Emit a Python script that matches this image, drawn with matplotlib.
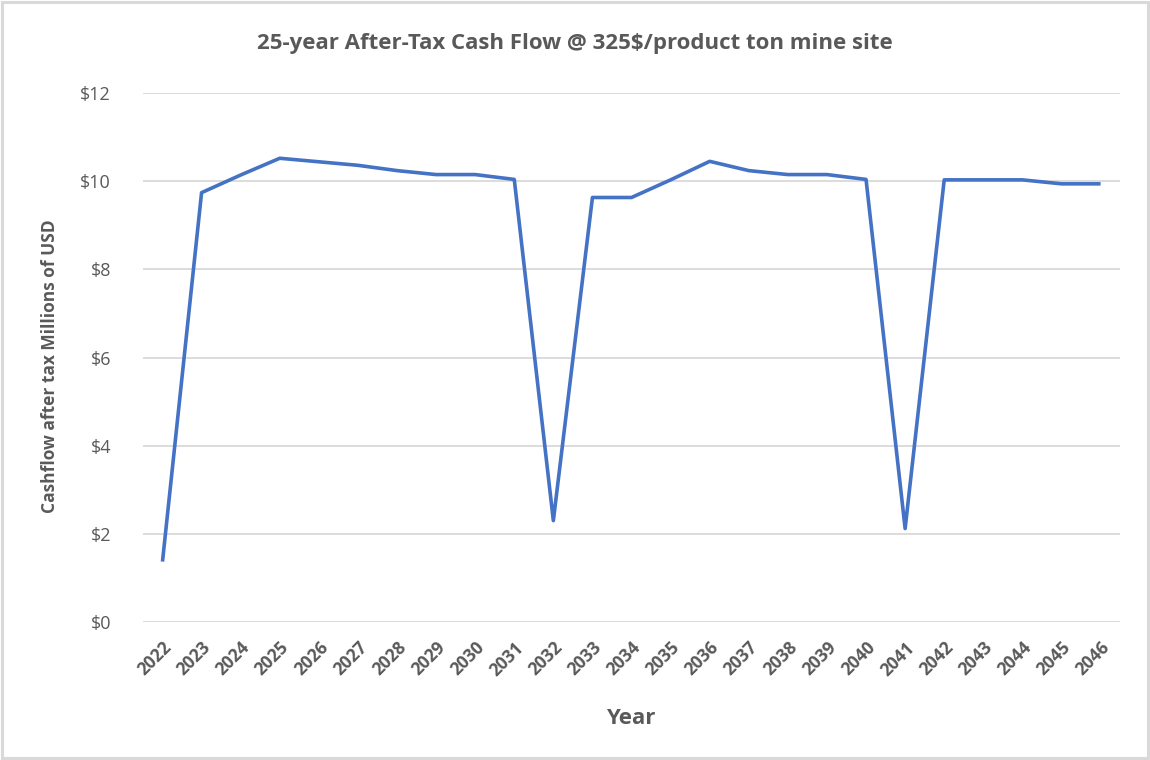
import matplotlib.pyplot as plt
from matplotlib.patches import Rectangle

# data (millions of USD)
years = [2022, 2023, 2024, 2025, 2026, 2027, 2028, 2029, 2030, 2031, 2032, 2033,
         2034, 2035, 2036, 2037, 2038, 2039, 2040, 2041, 2042, 2043, 2044, 2045, 2046]
cashflow = [1.37, 9.74, 10.14, 10.52, 10.44, 10.36, 10.24, 10.15, 10.15, 10.04, 2.30, 9.63,
            9.63, 10.03, 10.45, 10.24, 10.15, 10.15, 10.04, 2.12, 10.03, 10.03, 10.03, 9.94, 9.94]
y_ticks = [0, 2, 4, 6, 8, 10, 12]

plt.rcParams['font.family'] = ['Open Sans', 'DejaVu Sans']
text_col = '#595959'
grid_col = '#d9d9d9'

fig = plt.figure(figsize=(11.5, 7.6), dpi=100)
ax = fig.add_axes([0.1243, 0.1816, 0.8497, 0.696])

x = list(range(len(years)))
ax.plot(x, cashflow, color='#4472C4', linewidth=2.6, solid_joinstyle='round',
        solid_capstyle='butt', zorder=3)

ax.set_xlim(-0.5, len(years) - 0.5)
ax.set_ylim(0, 12)
ax.set_yticks(y_ticks)
ax.set_yticklabels(['$' + str(v) for v in y_ticks])
ax.set_xticks(x)
ax.set_xticklabels([str(y) for y in years], rotation=45, ha='right',
                   rotation_mode='anchor', fontweight='bold')

ax.tick_params(axis='both', length=0, colors=text_col)
ax.tick_params(axis='y', pad=23, labelsize=13)
ax.tick_params(axis='x', pad=12, labelsize=12.5)
for s in ax.spines.values():
    s.set_visible(False)
ax.grid(axis='y', color=grid_col, linewidth=1.3)
ax.set_axisbelow(True)

ax.set_xlabel('Year', fontsize=16, fontweight='bold', color=text_col)
ax.xaxis.set_label_coords(0.4995, -0.163)
ax.set_ylabel('Cashflow after tax Millions of USD', fontsize=12.5, fontweight='bold',
              color=text_col)
ax.yaxis.set_label_coords(-0.086, 0.484)
fig.text(0.5, 0.943, '25-year After-Tax Cash Flow @ 325$/product ton mine site',
         ha='center', va='center', fontsize=16, fontweight='bold', color=text_col)

# outer chart border
fig.patches.append(Rectangle((0.002, 0.003), 0.996, 0.994, transform=fig.transFigure,
                             fill=False, edgecolor=grid_col, linewidth=2.2))

fig.savefig('out.png', dpi=100)
